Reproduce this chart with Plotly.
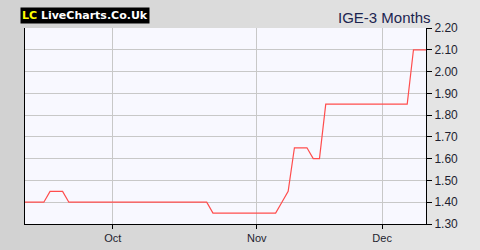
import plotly.graph_objects as go
import pandas as pd

# ---- data ----
dates = [d.strftime("%Y-%m-%d") for d in pd.bdate_range("2025-09-11", "2025-12-10")]
prices = (
    [1.40, 1.40, 1.40, 1.40]
    + [1.45, 1.45, 1.45]
    + [1.40] * 23
    + [1.35] * 11
    + [1.40]
    + [1.45]
    + [1.65, 1.65, 1.65]
    + [1.60, 1.60]
    + [1.85] * 14
    + [2.10, 2.10, 2.10]
)
tick_dates = ["2025-10-01", "2025-11-03", "2025-12-01"]
tick_labels = ["Oct", "Nov", "Dec"]
y_ticks = [1.30, 1.40, 1.50, 1.60, 1.70, 1.80, 1.90, 2.00, 2.10, 2.20]
title_text = "IGE-3 Months"

W, H = 480, 250
ml, mr, mt, mb = 25, 54, 28, 26
pw, ph = W - ml - mr, H - mt - mb


def px_x(p):
    return (p - ml) / pw


def px_y(p):
    return (H - mb - p) / ph


fig = go.Figure()
fig.add_trace(go.Scatter(
    x=dates, y=prices, mode="lines",
    line=dict(color="#ff4d4d", width=1.2),
    hoverinfo="skip", showlegend=False,
))

# background panel: horizontal grey gradient built from thin strips
n = 48
c0, c1 = 0xD2, 0xE6
for i in range(n):
    a = px_x(W * i / n)
    b = px_x(W * (i + 1) / n + 0.5)
    c = round(c0 + (c1 - c0) * i / (n - 1))
    col = f"rgb({c},{c},{c})"
    fig.add_shape(type="rect", xref="paper", yref="paper",
                  x0=a, x1=b, y0=px_y(H), y1=px_y(0),
                  fillcolor=col, line=dict(width=0), layer="below")
fig.add_shape(type="rect", xref="paper", yref="paper", x0=0, x1=1, y0=0, y1=1,
              fillcolor="#f8f8ff", line=dict(width=0), layer="below")

# logo
fig.add_annotation(
    xref="paper", yref="paper", x=px_x(20), y=px_y(16), xanchor="left", yanchor="middle",
    text="<b><span style='color:#ffff00'>LC</span> LiveCharts.Co.Uk</b>",
    showarrow=False, bgcolor="#000000", borderpad=1,
    font=dict(family="DejaVu Sans", size=11, color="#ffffff"),
)
# title
fig.add_annotation(
    xref="paper", yref="paper", x=px_x(433), y=px_y(17), xanchor="right", yanchor="middle",
    text=title_text, showarrow=False,
    font=dict(family="Liberation Sans", size=15, color="#1c2550"),
)

fig.update_layout(
    width=W, height=H,
    margin=dict(l=ml, r=mr, t=mt, b=mb),
    paper_bgcolor="#dcdcdc",
    plot_bgcolor="rgba(0,0,0,0)",
    font=dict(family="Liberation Sans", size=12, color="#1e1e30"),
    xaxis=dict(
        type="category", range=[0, len(dates) - 1],
        tickvals=tick_dates, ticktext=tick_labels,
        showgrid=True, gridcolor="#c8c8c8", gridwidth=1,
        showline=True, linecolor="#000000", linewidth=1,
        ticks="outside", ticklen=4, tickcolor="#000000",
        tickfont=dict(size=11), zeroline=False, fixedrange=True,
        automargin=False,
    ),
    yaxis=dict(
        side="right", range=[1.30, 2.20],
        tickvals=y_ticks, ticktext=[f"{v:.2f}" for v in y_ticks],
        showgrid=True, gridcolor="#c8c8c8", gridwidth=1,
        showline=True, linecolor="#000000", linewidth=1, mirror=True,
        ticks="outside", ticklen=5, tickcolor="#000000",
        tickfont=dict(size=12), zeroline=False, fixedrange=True,
        automargin=False,
    ),
)

fig.write_html("out.html", config={"displayModeBar": False})
